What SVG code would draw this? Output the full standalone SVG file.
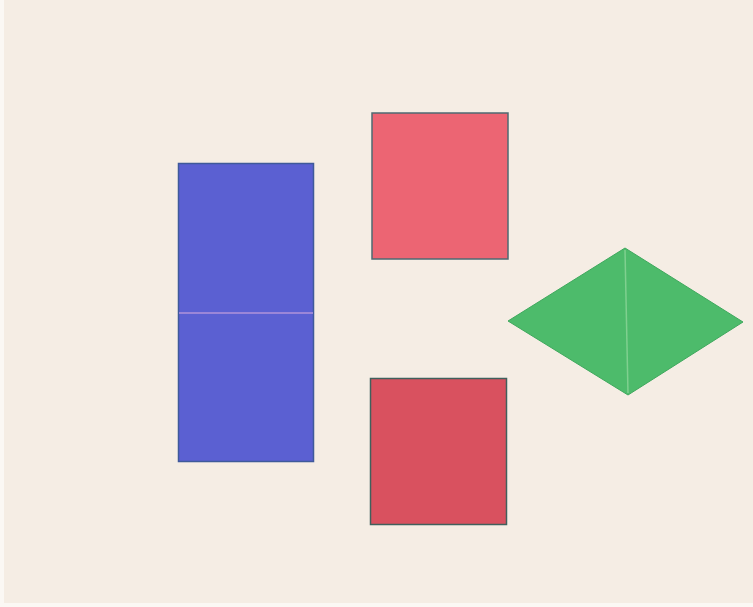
<svg xmlns="http://www.w3.org/2000/svg" width="753" height="607" viewBox="0 0 753 607">
<style>
.edge{stroke-width:1.5;stroke-linejoin:miter}
</style>
<rect x="0" y="0" width="753" height="607" fill="#fbf8f4"/>
<rect x="4" y="0" width="749" height="603" fill="#f5ede4"/>
<g id="blue">
<rect class="edge" x="178.5" y="163.5" width="135" height="298" fill="#5b60d2" stroke="#3f5a9a"/>
<line x1="179" y1="313" x2="313" y2="313" stroke="#9a86d8" stroke-width="2"/>
</g>
<g id="red-top">
<rect class="edge" x="372" y="113" width="136" height="146" fill="#ec6573" stroke="#4e6a72"/>
</g>
<g id="red-bottom">
<rect class="edge" x="370.5" y="378.5" width="136" height="146" fill="#d9515f" stroke="#40605c"/>
</g>
<g id="green">
<polygon points="508,321 625,248 743,322 628,395" fill="#4dbb6b" stroke="#3fa85d" stroke-width="1"/>
<line x1="625" y1="250" x2="628" y2="393" stroke="#7fd08f" stroke-width="1.5"/>
</g>
</svg>
